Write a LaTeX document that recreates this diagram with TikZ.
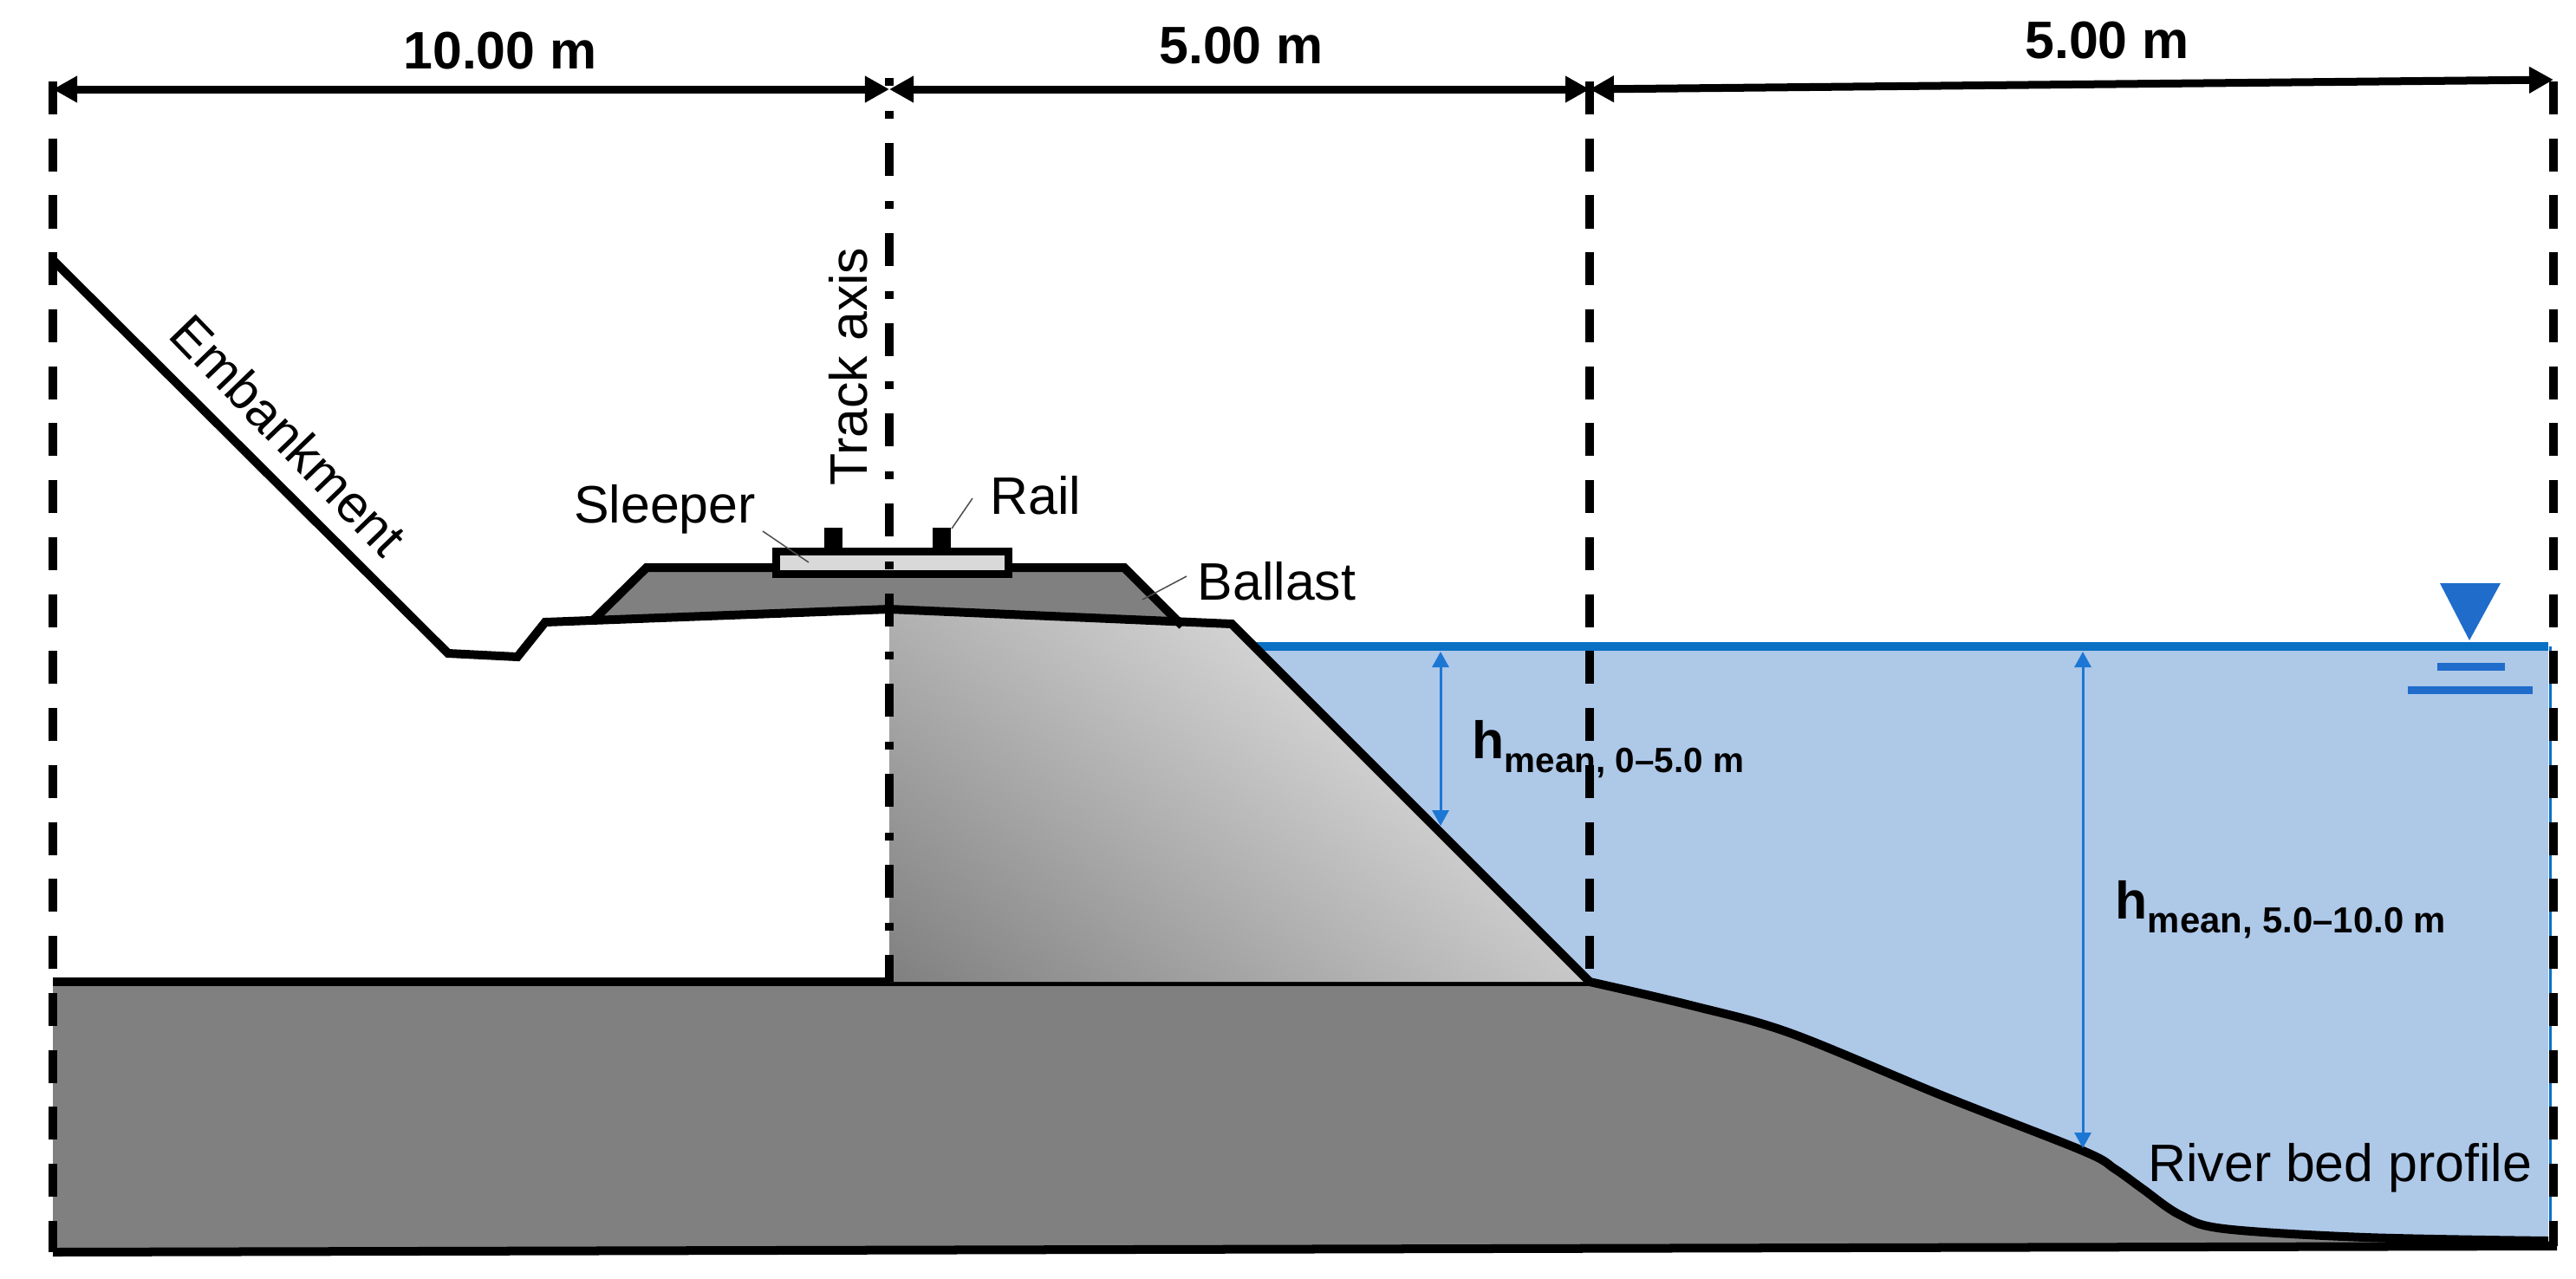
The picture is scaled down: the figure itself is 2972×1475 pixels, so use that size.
\documentclass[tikz,border=0pt]{standalone}
\usepackage{fontspec}
\setmainfont{Liberation Sans}
\usetikzlibrary{arrows.meta}
\definecolor{waterfill}{HTML}{AEC8E8}
\definecolor{waterline}{HTML}{0A70C4}
\definecolor{watersym}{HTML}{1F6CCB}
\definecolor{depthblue}{HTML}{1C77D4}
\definecolor{groundgray}{HTML}{808080}
\definecolor{sleepergray}{HTML}{D9D9D9}
\pgfdeclareverticalshading{embshade}{100bp}{color(0bp)=(black!60); color(62bp)=(black!18); color(100bp)=(black!10)}
\newcommand{\hmeanlabel}[2]{\textbf{h\raisebox{-0.5ex}{\fontsize{#1}{13}\selectfont #2}}}
\tikzset{
	thick line/.style={line width=0.1cm,black},
	dim line/.style={line width=0.09cm,black,{Triangle[length=0.28cm,width=0.29cm]}-{Triangle[length=0.28cm,width=0.29cm]}},
	section line/.style={line width=0.095cm,black,dash pattern=on 0.38cm off 0.277cm},
	depth line/.style={line width=0.03cm,depthblue,{Triangle[length=0.18cm,width=0.19cm]}-{Triangle[length=0.18cm,width=0.19cm]}},
	leader/.style={line width=0.015cm,black!70},
	lbl/.style={font=\fontsize{17.3}{20}\selectfont,inner sep=0pt},
	dimlbl/.style={font=\fontsize{17.3}{20}\selectfont\bfseries,inner sep=0pt}
}
\begin{document}
\begin{tikzpicture}[x=0.01cm,y=-0.01cm]
			%%%%% START %%%%%
			\def\xleft{61}
			\def\xaxis{1026}
			\def\xmid{1834}
			\def\xright{2946}
			\def\ydim{103}
			\def\ywater{746}
			\def\yground{1133}

			\useasboundingbox (0,0) rectangle (2972,1475);

			% water
			\fill[waterfill] (1447,\ywater) -- (2940,\ywater) -- (2940,1434) -- (\xmid,1434) -- (\xmid,\yground) -- cycle;
			\draw[line width=0.03cm,waterline] (2942,\ywater) -- (2942,1431);
			\draw[line width=0.1cm,waterline] (1447,\ywater) -- (2940,\ywater);

			% ground
			\fill[groundgray] (\xleft,\yground) -- plot[smooth,tension=0.55] coordinates {(\xmid,\yground) (1950,1160) (2065,1192) (2240,1264) (2403,1328) (2440,1349) (2472,1372) (2515,1402) (2566,1418) (2729,1428) (2940,1432)} -- (2946,1438) -- (\xleft,1445) -- cycle;
			\draw[thick line] plot[smooth,tension=0.55] coordinates {(\xmid,\yground) (1950,1160) (2065,1192) (2240,1264) (2403,1328) (2440,1349) (2472,1372) (2515,1402) (2566,1418) (2729,1428) (2940,1432)};
			\draw[thick line] (\xleft,\yground) -- (\xmid,\yground);
			\draw[thick line] (\xleft,1445) -- (2950,1438);

			% embankment
			\shade[shading=embshade,shading angle=-38] (\xaxis,703) -- (1421,720) -- (\xmid,\yground) -- (\xaxis,\yground) -- cycle;
			\fill[groundgray] (689,713) -- (746,655) -- (1297,655) -- (1360,719) -- (1421,720) -- (\xaxis,703) -- cycle;
			\draw[thick line,line join=miter] (\xleft,300) -- (517,754) -- (597,758) -- (629,718) -- (\xaxis,703) -- (1421,720) -- (\xmid,\yground);
			\draw[thick line] (683,717) -- (746,655) -- (1297,655) -- (1364,722);

			% sleeper and rails
			\draw[line width=0.09cm,fill=sleepergray] (895,636) rectangle (1163,662);
			\fill[black] (951,609) rectangle (972,634);
			\fill[black] (1076,609) rectangle (1097,634);

			% section lines
			\draw[section line] (\xleft,94) -- (\xleft,1445);
			\draw[section line] (\xmid,94) -- (\xmid,\yground);
			\draw[section line] (\xright,94) -- (\xright,1438);
			\draw[line width=0.095cm,black,dash pattern=on 0.38cm off 0.29cm on 0.09cm off 0.28cm,dash phase=0.29cm] (\xaxis,90) -- (\xaxis,\yground);

			% dimensions
			\coordinate (dleft) at (\xleft,\ydim);
			\coordinate (daxis) at (\xaxis,\ydim);
			\coordinate (dmid) at (\xmid,\ydim);
			\coordinate (dright) at (\xright,92);
			\draw[dim line] (dleft) -- (daxis);
			\draw[dim line] (daxis) -- (dmid);
			\draw[dim line] (dmid) -- (dright);
			\node[dimlbl] (lbltenm) at (577,59) {10.00 m};
			\node[dimlbl] (lblfivea) at (1432,53) {5.00 m};
			\node[dimlbl] (lblfiveb) at (2431,47) {5.00 m};

			% labels
			\node[lbl,rotate=-46] (lblemb) at (333,502) {Embankment};
			\node[lbl,rotate=90,anchor=base] (lblaxis) at (1000,423) {Track axis};
			\node[lbl,anchor=base] (lblsleeper) at (767,603) {Sleeper};
			\node[lbl,anchor=base west] (lblrail) at (1142,593) {Rail};
			\node[lbl,anchor=base west] (lblballast) at (1381,692) {Ballast};
			\node[lbl,anchor=base east] (lblbed) at (2922,1363) {River bed profile};
			\draw[leader] (880,613) -- (933,649);
			\draw[leader] (1122,575) -- (1098,610);
			\draw[leader] (1369,665) -- (1318,692);

			% water depths
			\coordinate (tophone) at (1662,752);
			\coordinate (bothone) at (1662,953);
			\coordinate (tophtwo) at (2403,752);
			\coordinate (bothtwo) at (2403,1325);
			\draw[depth line] (tophone) -- (bothone);
			\draw[depth line] (tophtwo) -- (bothtwo);
			\node[lbl,anchor=base west] (lblhone) at (1698,875) {\hmeanlabel{11.5}{mean, 0--5.0 m}};
			\node[lbl,anchor=base west] (lblhtwo) at (2440,1060) {\hmeanlabel{11.9}{mean, 5.0--10.0 m}};

			% water level symbol
			\fill[watersym] (2815,673) -- (2885,673) -- (2849,739) -- cycle;
			\draw[line width=0.09cm,watersym] (2812,769) -- (2890,769);
			\draw[line width=0.09cm,watersym] (2778,796) -- (2922,796);
			%%%%% END %%%%%
\end{tikzpicture}
\end{document}
